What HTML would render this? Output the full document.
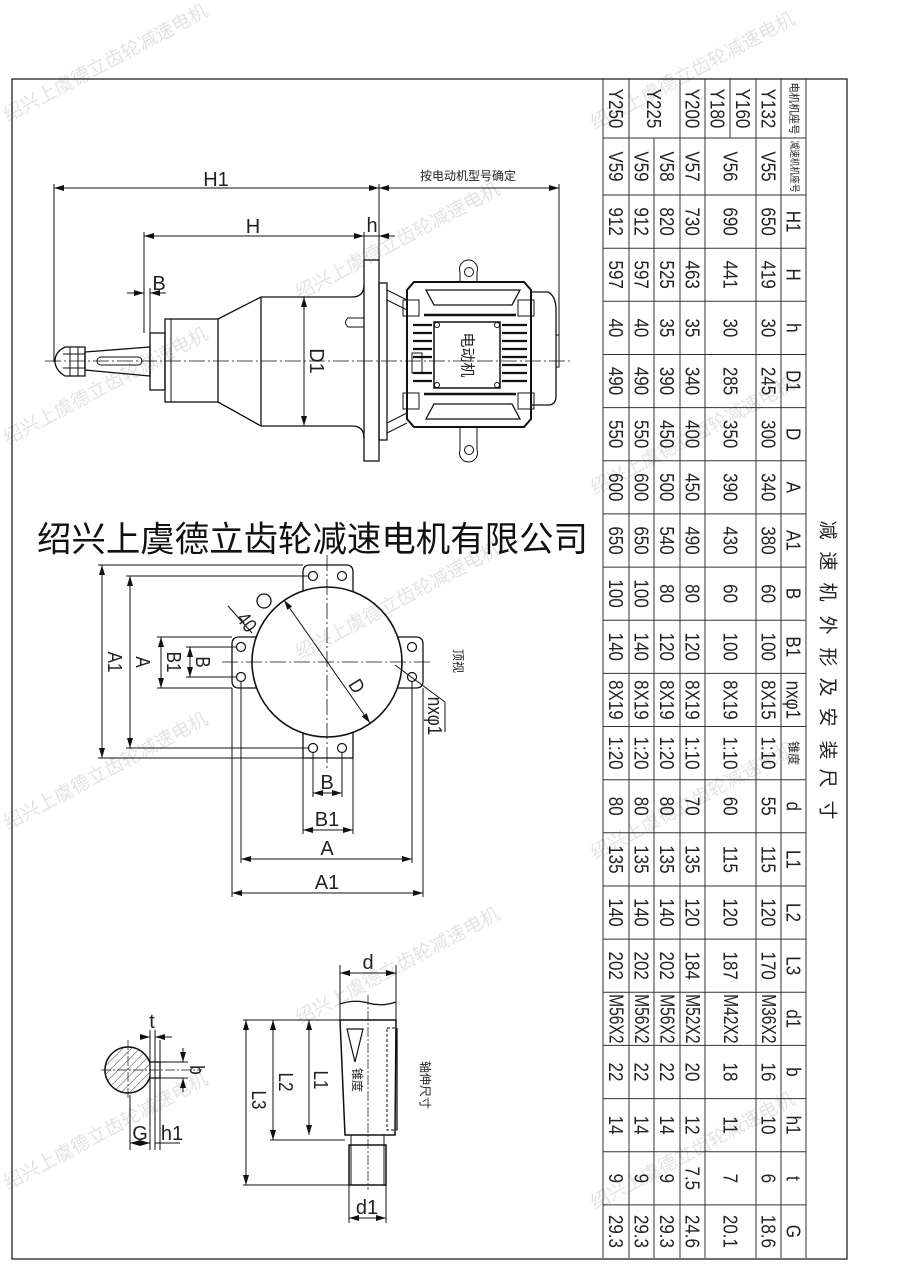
<!DOCTYPE html>
<html><head><meta charset="utf-8"><style>
html,body{margin:0;padding:0;background:#fff;}
svg{display:block;}
.t{font-family:"Liberation Sans Narrow","Liberation Sans",sans-serif;font-size:20px;text-anchor:middle;dominant-baseline:central;fill:#222;}
.c{font-family:"Liberation Sans","Noto Sans CJK SC",sans-serif;text-anchor:middle;dominant-baseline:central;fill:#222;}
.d{font-family:"Liberation Sans Narrow","Liberation Sans",sans-serif;font-size:20px;text-anchor:middle;fill:#222;}
.w{font-family:"Liberation Sans","Noto Sans CJK SC",sans-serif;font-size:19px;fill:#000;opacity:0.11;}
</style></head><body>
<svg width="900" height="1273" viewBox="0 0 900 1273" xmlns="http://www.w3.org/2000/svg">
<defs>
<marker id="a" viewBox="0 0 10 6" refX="10" refY="3" markerWidth="10" markerHeight="6" orient="auto-start-reverse" markerUnits="userSpaceOnUse"><path d="M0,0 L10,3 L0,6 z" fill="#111"/></marker>
<pattern id="hat" width="6" height="6" patternUnits="userSpaceOnUse" patternTransform="rotate(45)"><line x1="0" y1="0" x2="0" y2="6" stroke="#333" stroke-width="1"/></pattern>
</defs>
<rect width="900" height="1273" fill="#fff"/>
<rect x="12" y="79" width="835" height="1180" fill="none" stroke="#222" stroke-width="1.3"/>

<!-- ===== TABLE ===== -->
<g stroke="#333" stroke-width="1" fill="none">
<line x1="603" y1="79" x2="603" y2="1258"/>
<line x1="629" y1="79" x2="629" y2="1258"/>
<line x1="654" y1="138" x2="654" y2="1258"/>
<line x1="680" y1="79" x2="680" y2="1258"/>
<line x1="705" y1="79" x2="705" y2="1258"/>
<line x1="730" y1="79" x2="730" y2="138"/>
<line x1="756" y1="79" x2="756" y2="1258"/>
<line x1="781" y1="79" x2="781" y2="1258"/>
<line x1="806" y1="79" x2="806" y2="1258"/>
<line x1="603" y1="138" x2="806" y2="138"/>
<line x1="603" y1="195" x2="806" y2="195"/>
<line x1="603" y1="248.2" x2="806" y2="248.2"/>
<line x1="603" y1="301.3" x2="806" y2="301.3"/>
<line x1="603" y1="354.5" x2="806" y2="354.5"/>
<line x1="603" y1="407.6" x2="806" y2="407.6"/>
<line x1="603" y1="460.8" x2="806" y2="460.8"/>
<line x1="603" y1="513.9" x2="806" y2="513.9"/>
<line x1="603" y1="567.1" x2="806" y2="567.1"/>
<line x1="603" y1="620.2" x2="806" y2="620.2"/>
<line x1="603" y1="673.4" x2="806" y2="673.4"/>
<line x1="603" y1="726.5" x2="806" y2="726.5"/>
<line x1="603" y1="779.7" x2="806" y2="779.7"/>
<line x1="603" y1="832.8" x2="806" y2="832.8"/>
<line x1="603" y1="886" x2="806" y2="886"/>
<line x1="603" y1="939.1" x2="806" y2="939.1"/>
<line x1="603" y1="992.3" x2="806" y2="992.3"/>
<line x1="603" y1="1045.4" x2="806" y2="1045.4"/>
<line x1="603" y1="1098.6" x2="806" y2="1098.6"/>
<line x1="603" y1="1151.7" x2="806" y2="1151.7"/>
<line x1="603" y1="1204.9" x2="806" y2="1204.9"/>
</g>

<text class="c" font-size="11" textLength="52" lengthAdjust="spacingAndGlyphs" transform="translate(793.5,108.5) rotate(90)">电机机座号</text>
<text class="c" font-size="10" textLength="52" lengthAdjust="spacingAndGlyphs" transform="translate(793.5,166.5) rotate(90)">减速机机座号</text>
<text class="t" transform="translate(793.5,221.6) rotate(90) scale(0.85,1)">H1</text>
<text class="t" transform="translate(793.5,274.7) rotate(90) scale(0.85,1)">H</text>
<text class="t" transform="translate(793.5,327.9) rotate(90) scale(0.85,1)">h</text>
<text class="t" transform="translate(793.5,381) rotate(90) scale(0.85,1)">D1</text>
<text class="t" transform="translate(793.5,434.2) rotate(90) scale(0.85,1)">D</text>
<text class="t" transform="translate(793.5,487.3) rotate(90) scale(0.85,1)">A</text>
<text class="t" transform="translate(793.5,540.5) rotate(90) scale(0.85,1)">A1</text>
<text class="t" transform="translate(793.5,593.6) rotate(90) scale(0.85,1)">B</text>
<text class="t" transform="translate(793.5,646.8) rotate(90) scale(0.85,1)">B1</text>
<text class="t" transform="translate(793.5,699.9) rotate(90) scale(0.85,1)">nxφ1</text>
<text class="c" font-size="12" transform="translate(793.5,753.1) rotate(90)">锥度</text>
<text class="t" transform="translate(793.5,806.2) rotate(90) scale(0.85,1)">d</text>
<text class="t" transform="translate(793.5,859.4) rotate(90) scale(0.85,1)">L1</text>
<text class="t" transform="translate(793.5,912.5) rotate(90) scale(0.85,1)">L2</text>
<text class="t" transform="translate(793.5,965.7) rotate(90) scale(0.85,1)">L3</text>
<text class="t" transform="translate(793.5,1018.8) rotate(90) scale(0.85,1)">d1</text>
<text class="t" transform="translate(793.5,1072) rotate(90) scale(0.85,1)">b</text>
<text class="t" transform="translate(793.5,1125.1) rotate(90) scale(0.85,1)">h1</text>
<text class="t" transform="translate(793.5,1178.3) rotate(90) scale(0.85,1)">t</text>
<text class="t" transform="translate(793.5,1231.4) rotate(90) scale(0.85,1)">G</text>

<text class="t" transform="translate(768.5,108.5) rotate(90) scale(0.85,1)">Y132</text>
<text class="t" transform="translate(743,108.5) rotate(90) scale(0.85,1)">Y160</text>
<text class="t" transform="translate(717.5,108.5) rotate(90) scale(0.85,1)">Y180</text>
<text class="t" transform="translate(692.5,108.5) rotate(90) scale(0.85,1)">Y200</text>
<text class="t" transform="translate(654,108.5) rotate(90) scale(0.85,1)">Y225</text>
<text class="t" transform="translate(616,108.5) rotate(90) scale(0.85,1)">Y250</text>
<text class="t" transform="translate(768.5,166.5) rotate(90) scale(0.85,1)">V55</text>
<text class="t" transform="translate(730.5,166.5) rotate(90) scale(0.85,1)">V56</text>
<text class="t" transform="translate(692.5,166.5) rotate(90) scale(0.85,1)">V57</text>
<text class="t" transform="translate(667,166.5) rotate(90) scale(0.85,1)">V58</text>
<text class="t" transform="translate(641.5,166.5) rotate(90) scale(0.85,1)">V59</text>
<text class="t" transform="translate(616,166.5) rotate(90) scale(0.85,1)">V59</text>

<g>
<text class="t" transform="translate(768.5,221.6) rotate(90) scale(0.85,1)">650</text>
<text class="t" transform="translate(730.5,221.6) rotate(90) scale(0.85,1)">690</text>
<text class="t" transform="translate(692.5,221.6) rotate(90) scale(0.85,1)">730</text>
<text class="t" transform="translate(667,221.6) rotate(90) scale(0.85,1)">820</text>
<text class="t" transform="translate(641.5,221.6) rotate(90) scale(0.85,1)">912</text>
<text class="t" transform="translate(616,221.6) rotate(90) scale(0.85,1)">912</text>
</g>
<g>
<text class="t" transform="translate(768.5,274.7) rotate(90) scale(0.85,1)">419</text>
<text class="t" transform="translate(730.5,274.7) rotate(90) scale(0.85,1)">441</text>
<text class="t" transform="translate(692.5,274.7) rotate(90) scale(0.85,1)">463</text>
<text class="t" transform="translate(667,274.7) rotate(90) scale(0.85,1)">525</text>
<text class="t" transform="translate(641.5,274.7) rotate(90) scale(0.85,1)">597</text>
<text class="t" transform="translate(616,274.7) rotate(90) scale(0.85,1)">597</text>
</g>
<g>
<text class="t" transform="translate(768.5,327.9) rotate(90) scale(0.85,1)">30</text>
<text class="t" transform="translate(730.5,327.9) rotate(90) scale(0.85,1)">30</text>
<text class="t" transform="translate(692.5,327.9) rotate(90) scale(0.85,1)">35</text>
<text class="t" transform="translate(667,327.9) rotate(90) scale(0.85,1)">35</text>
<text class="t" transform="translate(641.5,327.9) rotate(90) scale(0.85,1)">40</text>
<text class="t" transform="translate(616,327.9) rotate(90) scale(0.85,1)">40</text>
</g>
<g>
<text class="t" transform="translate(768.5,381) rotate(90) scale(0.85,1)">245</text>
<text class="t" transform="translate(730.5,381) rotate(90) scale(0.85,1)">285</text>
<text class="t" transform="translate(692.5,381) rotate(90) scale(0.85,1)">340</text>
<text class="t" transform="translate(667,381) rotate(90) scale(0.85,1)">390</text>
<text class="t" transform="translate(641.5,381) rotate(90) scale(0.85,1)">490</text>
<text class="t" transform="translate(616,381) rotate(90) scale(0.85,1)">490</text>
</g>
<g>
<text class="t" transform="translate(768.5,434.2) rotate(90) scale(0.85,1)">300</text>
<text class="t" transform="translate(730.5,434.2) rotate(90) scale(0.85,1)">350</text>
<text class="t" transform="translate(692.5,434.2) rotate(90) scale(0.85,1)">400</text>
<text class="t" transform="translate(667,434.2) rotate(90) scale(0.85,1)">450</text>
<text class="t" transform="translate(641.5,434.2) rotate(90) scale(0.85,1)">550</text>
<text class="t" transform="translate(616,434.2) rotate(90) scale(0.85,1)">550</text>
</g>
<g>
<text class="t" transform="translate(768.5,487.3) rotate(90) scale(0.85,1)">340</text>
<text class="t" transform="translate(730.5,487.3) rotate(90) scale(0.85,1)">390</text>
<text class="t" transform="translate(692.5,487.3) rotate(90) scale(0.85,1)">450</text>
<text class="t" transform="translate(667,487.3) rotate(90) scale(0.85,1)">500</text>
<text class="t" transform="translate(641.5,487.3) rotate(90) scale(0.85,1)">600</text>
<text class="t" transform="translate(616,487.3) rotate(90) scale(0.85,1)">600</text>
</g>
<g>
<text class="t" transform="translate(768.5,540.5) rotate(90) scale(0.85,1)">380</text>
<text class="t" transform="translate(730.5,540.5) rotate(90) scale(0.85,1)">430</text>
<text class="t" transform="translate(692.5,540.5) rotate(90) scale(0.85,1)">490</text>
<text class="t" transform="translate(667,540.5) rotate(90) scale(0.85,1)">540</text>
<text class="t" transform="translate(641.5,540.5) rotate(90) scale(0.85,1)">650</text>
<text class="t" transform="translate(616,540.5) rotate(90) scale(0.85,1)">650</text>
</g>
<g>
<text class="t" transform="translate(768.5,593.6) rotate(90) scale(0.85,1)">60</text>
<text class="t" transform="translate(730.5,593.6) rotate(90) scale(0.85,1)">60</text>
<text class="t" transform="translate(692.5,593.6) rotate(90) scale(0.85,1)">80</text>
<text class="t" transform="translate(667,593.6) rotate(90) scale(0.85,1)">80</text>
<text class="t" transform="translate(641.5,593.6) rotate(90) scale(0.85,1)">100</text>
<text class="t" transform="translate(616,593.6) rotate(90) scale(0.85,1)">100</text>
</g>
<g>
<text class="t" transform="translate(768.5,646.8) rotate(90) scale(0.85,1)">100</text>
<text class="t" transform="translate(730.5,646.8) rotate(90) scale(0.85,1)">100</text>
<text class="t" transform="translate(692.5,646.8) rotate(90) scale(0.85,1)">120</text>
<text class="t" transform="translate(667,646.8) rotate(90) scale(0.85,1)">120</text>
<text class="t" transform="translate(641.5,646.8) rotate(90) scale(0.85,1)">140</text>
<text class="t" transform="translate(616,646.8) rotate(90) scale(0.85,1)">140</text>
</g>
<g>
<text class="t" transform="translate(768.5,699.9) rotate(90) scale(0.85,1)">8X15</text>
<text class="t" transform="translate(730.5,699.9) rotate(90) scale(0.85,1)">8X19</text>
<text class="t" transform="translate(692.5,699.9) rotate(90) scale(0.85,1)">8X19</text>
<text class="t" transform="translate(667,699.9) rotate(90) scale(0.85,1)">8X19</text>
<text class="t" transform="translate(641.5,699.9) rotate(90) scale(0.85,1)">8X19</text>
<text class="t" transform="translate(616,699.9) rotate(90) scale(0.85,1)">8X19</text>
</g>
<g>
<text class="t" transform="translate(768.5,753.1) rotate(90) scale(0.85,1)">1:10</text>
<text class="t" transform="translate(730.5,753.1) rotate(90) scale(0.85,1)">1:10</text>
<text class="t" transform="translate(692.5,753.1) rotate(90) scale(0.85,1)">1:10</text>
<text class="t" transform="translate(667,753.1) rotate(90) scale(0.85,1)">1:20</text>
<text class="t" transform="translate(641.5,753.1) rotate(90) scale(0.85,1)">1:20</text>
<text class="t" transform="translate(616,753.1) rotate(90) scale(0.85,1)">1:20</text>
</g>
<g>
<text class="t" transform="translate(768.5,806.2) rotate(90) scale(0.85,1)">55</text>
<text class="t" transform="translate(730.5,806.2) rotate(90) scale(0.85,1)">60</text>
<text class="t" transform="translate(692.5,806.2) rotate(90) scale(0.85,1)">70</text>
<text class="t" transform="translate(667,806.2) rotate(90) scale(0.85,1)">80</text>
<text class="t" transform="translate(641.5,806.2) rotate(90) scale(0.85,1)">80</text>
<text class="t" transform="translate(616,806.2) rotate(90) scale(0.85,1)">80</text>
</g>
<g>
<text class="t" transform="translate(768.5,859.4) rotate(90) scale(0.85,1)">115</text>
<text class="t" transform="translate(730.5,859.4) rotate(90) scale(0.85,1)">115</text>
<text class="t" transform="translate(692.5,859.4) rotate(90) scale(0.85,1)">135</text>
<text class="t" transform="translate(667,859.4) rotate(90) scale(0.85,1)">135</text>
<text class="t" transform="translate(641.5,859.4) rotate(90) scale(0.85,1)">135</text>
<text class="t" transform="translate(616,859.4) rotate(90) scale(0.85,1)">135</text>
</g>
<g>
<text class="t" transform="translate(768.5,912.5) rotate(90) scale(0.85,1)">120</text>
<text class="t" transform="translate(730.5,912.5) rotate(90) scale(0.85,1)">120</text>
<text class="t" transform="translate(692.5,912.5) rotate(90) scale(0.85,1)">120</text>
<text class="t" transform="translate(667,912.5) rotate(90) scale(0.85,1)">140</text>
<text class="t" transform="translate(641.5,912.5) rotate(90) scale(0.85,1)">140</text>
<text class="t" transform="translate(616,912.5) rotate(90) scale(0.85,1)">140</text>
</g>
<g>
<text class="t" transform="translate(768.5,965.7) rotate(90) scale(0.85,1)">170</text>
<text class="t" transform="translate(730.5,965.7) rotate(90) scale(0.85,1)">187</text>
<text class="t" transform="translate(692.5,965.7) rotate(90) scale(0.85,1)">184</text>
<text class="t" transform="translate(667,965.7) rotate(90) scale(0.85,1)">202</text>
<text class="t" transform="translate(641.5,965.7) rotate(90) scale(0.85,1)">202</text>
<text class="t" transform="translate(616,965.7) rotate(90) scale(0.85,1)">202</text>
</g>
<g>
<text class="t" transform="translate(768.5,1018.8) rotate(90) scale(0.78,1)">M36X2</text>
<text class="t" transform="translate(730.5,1018.8) rotate(90) scale(0.78,1)">M42X2</text>
<text class="t" transform="translate(692.5,1018.8) rotate(90) scale(0.78,1)">M52X2</text>
<text class="t" transform="translate(667,1018.8) rotate(90) scale(0.78,1)">M56X2</text>
<text class="t" transform="translate(641.5,1018.8) rotate(90) scale(0.78,1)">M56X2</text>
<text class="t" transform="translate(616,1018.8) rotate(90) scale(0.78,1)">M56X2</text>
</g>
<g>
<text class="t" transform="translate(768.5,1072) rotate(90) scale(0.85,1)">16</text>
<text class="t" transform="translate(730.5,1072) rotate(90) scale(0.85,1)">18</text>
<text class="t" transform="translate(692.5,1072) rotate(90) scale(0.85,1)">20</text>
<text class="t" transform="translate(667,1072) rotate(90) scale(0.85,1)">22</text>
<text class="t" transform="translate(641.5,1072) rotate(90) scale(0.85,1)">22</text>
<text class="t" transform="translate(616,1072) rotate(90) scale(0.85,1)">22</text>
</g>
<g>
<text class="t" transform="translate(768.5,1125.1) rotate(90) scale(0.85,1)">10</text>
<text class="t" transform="translate(730.5,1125.1) rotate(90) scale(0.85,1)">11</text>
<text class="t" transform="translate(692.5,1125.1) rotate(90) scale(0.85,1)">12</text>
<text class="t" transform="translate(667,1125.1) rotate(90) scale(0.85,1)">14</text>
<text class="t" transform="translate(641.5,1125.1) rotate(90) scale(0.85,1)">14</text>
<text class="t" transform="translate(616,1125.1) rotate(90) scale(0.85,1)">14</text>
</g>
<g>
<text class="t" transform="translate(768.5,1178.3) rotate(90) scale(0.85,1)">6</text>
<text class="t" transform="translate(730.5,1178.3) rotate(90) scale(0.85,1)">7</text>
<text class="t" transform="translate(692.5,1178.3) rotate(90) scale(0.85,1)">7.5</text>
<text class="t" transform="translate(667,1178.3) rotate(90) scale(0.85,1)">9</text>
<text class="t" transform="translate(641.5,1178.3) rotate(90) scale(0.85,1)">9</text>
<text class="t" transform="translate(616,1178.3) rotate(90) scale(0.85,1)">9</text>
</g>
<g>
<text class="t" transform="translate(768.5,1231.4) rotate(90) scale(0.85,1)">18.6</text>
<text class="t" transform="translate(730.5,1231.4) rotate(90) scale(0.85,1)">20.1</text>
<text class="t" transform="translate(692.5,1231.4) rotate(90) scale(0.85,1)">24.6</text>
<text class="t" transform="translate(667,1231.4) rotate(90) scale(0.85,1)">29.3</text>
<text class="t" transform="translate(641.5,1231.4) rotate(90) scale(0.85,1)">29.3</text>
<text class="t" transform="translate(616,1231.4) rotate(90) scale(0.85,1)">29.3</text>
</g>

<g>
<text class="c" font-size="19" transform="translate(827,530) rotate(90)">减</text>
<text class="c" font-size="19" transform="translate(827,561) rotate(90)">速</text>
<text class="c" font-size="19" transform="translate(827,592) rotate(90)">机</text>
<text class="c" font-size="19" transform="translate(827,625) rotate(90)">外</text>
<text class="c" font-size="19" transform="translate(827,657) rotate(90)">形</text>
<text class="c" font-size="19" transform="translate(827,687) rotate(90)">及</text>
<text class="c" font-size="19" transform="translate(827,717) rotate(90)">安</text>
<text class="c" font-size="19" transform="translate(827,750) rotate(90)">装</text>
<text class="c" font-size="19" transform="translate(827,778) rotate(90)">尺</text>
<text class="c" font-size="19" transform="translate(827,810) rotate(90)">寸</text>
</g>

<!-- ===== SIDE VIEW ===== -->
<g stroke="#111" stroke-width="1" fill="none">
<line x1="54" y1="188" x2="379" y2="188" marker-start="url(#a)" marker-end="url(#a)"/>
<line x1="379" y1="188" x2="559" y2="188" marker-start="url(#a)" marker-end="url(#a)"/>
<line x1="54" y1="184" x2="54" y2="362"/>
<line x1="379" y1="184" x2="379" y2="262"/>
<line x1="559" y1="184" x2="559" y2="345"/>
<line x1="144" y1="236" x2="364" y2="236" marker-start="url(#a)" marker-end="url(#a)"/>
<line x1="364" y1="236" x2="379" y2="236"/>
<line x1="379" y1="236" x2="395" y2="236" marker-start="url(#a)"/>
<line x1="144" y1="232" x2="144" y2="333"/>
<line x1="364" y1="232" x2="364" y2="260"/>
<line x1="127" y1="293" x2="144" y2="293" marker-end="url(#a)"/>
<line x1="166" y1="293" x2="150" y2="293" marker-end="url(#a)"/>
<line x1="150" y1="288" x2="150" y2="333"/>
<line x1="304" y1="297" x2="304" y2="426" marker-start="url(#a)" marker-end="url(#a)"/>
<line x1="45" y1="361" x2="570" y2="361" stroke-dasharray="16,3,2,3" stroke-width="0.8"/>
<rect x="364" y="260" width="15" height="201" stroke-width="1.3"/>
<path d="M261,297 L352,297 Q364,297 364,285 M261,426 L352,426 Q364,426 364,438" stroke-width="1.3"/>
<line x1="261" y1="297" x2="261" y2="426" stroke-width="1.3"/>
<path d="M218,319 L261,297 M218,402 L261,426" stroke-width="1.3"/>
<rect x="165" y="319" width="53" height="83" stroke-width="1.3"/>
<line x1="171" y1="319" x2="171" y2="402"/>
<rect x="150" y="333" width="15" height="57" stroke-width="1.3"/>
<path d="M85,352 L150,347 L150,376 L85,370 Z" stroke-width="1.3"/>
<rect x="97" y="357" width="45" height="8" rx="4"/>
<path d="M85,347 L85,376 L65,376 Q55,370 55,361 Q55,352 65,347 Z" stroke-width="1.3"/>
<line x1="70" y1="347" x2="70" y2="376"/><line x1="78" y1="347" x2="78" y2="376"/>
<line x1="63" y1="354" x2="85" y2="354"/><line x1="63" y1="368" x2="85" y2="368"/>
<path d="M364,318 L348,318 Q343,322 348,327 L364,327" />
<rect x="379" y="283" width="8" height="157" stroke-width="1.3"/>
<path d="M387,290 L407,300 M387,433 L407,423 M387,300 L407,310 M387,423 L407,413"/>
<path d="M414,282 L524,282 L531,290 L531,419 L524,427 L414,427 L407,419 L407,290 Z" stroke-width="2"/>
<path d="M426,290 L520,290 L512,305 L434,305 Z M426,419 L520,419 L512,404 L434,404 Z" stroke-width="1.3"/>
<line x1="424" y1="315" x2="516" y2="315" stroke-width="2.5"/>
<line x1="424" y1="394" x2="516" y2="394" stroke-width="2.5"/>
<rect x="434" y="322" width="66" height="66" stroke-width="1.5"/>
<circle cx="437" cy="325" r="2.5"/><circle cx="497" cy="325" r="2.5"/>
<circle cx="437" cy="385" r="2.5"/><circle cx="497" cy="385" r="2.5"/>
<g stroke-width="2.2">
<line x1="413" y1="325" x2="432" y2="325"/><line x1="413" y1="333" x2="432" y2="333"/><line x1="413" y1="341" x2="432" y2="341"/><line x1="413" y1="349" x2="432" y2="349"/><line x1="413" y1="357" x2="432" y2="357"/><line x1="413" y1="373" x2="432" y2="373"/><line x1="413" y1="381" x2="432" y2="381"/>
<line x1="502" y1="325" x2="527" y2="325"/><line x1="502" y1="333" x2="527" y2="333"/><line x1="502" y1="341" x2="527" y2="341"/><line x1="502" y1="349" x2="527" y2="349"/><line x1="502" y1="357" x2="527" y2="357"/><line x1="502" y1="365" x2="527" y2="365"/><line x1="502" y1="373" x2="527" y2="373"/><line x1="502" y1="381" x2="527" y2="381"/>
</g>
<rect x="412" y="353" width="10" height="20"/>
<rect x="403" y="300" width="16" height="16"/><rect x="518" y="300" width="16" height="16"/>
<rect x="403" y="393" width="16" height="16"/><rect x="518" y="393" width="16" height="16"/>
<path d="M531,292 L548,292 Q556,296 556,310 L556,396 Q556,405 548,405 L531,405" stroke-width="1.3"/>
<rect x="556" y="335" width="3" height="32"/>
<path d="M460,282 L460,272 A9,9 0 1 1 477,272 L477,282"/><circle cx="469" cy="272" r="4.5"/>
<path d="M460,427 L460,450 A9,9 0 1 0 477,450 L477,427"/><circle cx="469" cy="450" r="4.5"/>
</g>
<text class="d" x="216" y="186">H1</text>
<text class="d" x="253" y="233">H</text>
<text class="d" x="372" y="232" font-size="19">h</text>
<text class="d" x="159" y="290" font-size="19">B</text>
<text class="c" font-size="12" x="468" y="176">按电动机型号确定</text>
<text class="t" transform="translate(316,361) rotate(90)">D1</text>
<text class="c" font-size="15" transform="translate(467,355) rotate(90)">电动机</text>

<text x="37" y="540" textLength="551" lengthAdjust="spacingAndGlyphs" style="font-family:'Liberation Sans','Noto Sans CJK SC',sans-serif;font-size:35px;fill:#111;dominant-baseline:central;">绍兴上虞德立齿轮减速电机有限公司</text>

<!-- ===== FLANGE VIEW ===== -->
<g stroke="#111" stroke-width="1" fill="none">
<path d="M303,595 L303,572 Q303,565 310,565 L346,565 Q353,565 353,572 L353,595" stroke-width="1.3"/>
<path d="M303,730 L303,758 L353,758 L353,730" stroke-width="1.3"/>
<path d="M260,637 L239,637 Q232,637 232,644 L232,681 Q232,688 239,688 L260,688" stroke-width="1.3"/>
<path d="M395,637 L416,637 Q423,637 423,644 L423,681 Q423,688 416,688 L395,688" stroke-width="1.3"/>
<circle cx="327" cy="662" r="75" fill="#fff" stroke-width="1.6"/>
<circle cx="264" cy="601" r="7" fill="#fff" stroke-width="1.3"/>
<g stroke-width="1.2">
<circle cx="313" cy="576" r="4.5"/><circle cx="342" cy="576" r="4.5"/>
<circle cx="313" cy="748" r="4.5"/><circle cx="342" cy="748" r="4.5"/>
<circle cx="241" cy="647" r="4.5"/><circle cx="241" cy="677" r="4.5"/>
<circle cx="412" cy="647" r="4.5"/><circle cx="412" cy="677" r="4.5"/>
</g>
<line x1="327" y1="555" x2="327" y2="768" stroke-dasharray="16,3,2,3" stroke-width="0.8"/>
<line x1="222" y1="662" x2="432" y2="662" stroke-dasharray="16,3,2,3" stroke-width="0.8"/>
<line x1="284" y1="600" x2="370" y2="723" marker-start="url(#a)" marker-end="url(#a)"/>
<line x1="228" y1="606" x2="252" y2="633" />
<line x1="102" y1="565" x2="102" y2="758" marker-start="url(#a)" marker-end="url(#a)"/>
<line x1="98" y1="565" x2="303" y2="565"/><line x1="98" y1="758" x2="303" y2="758"/>
<line x1="130" y1="576" x2="130" y2="748" marker-start="url(#a)" marker-end="url(#a)"/>
<line x1="126" y1="576" x2="308" y2="576"/><line x1="126" y1="748" x2="308" y2="748"/>
<line x1="161" y1="637" x2="161" y2="688" marker-start="url(#a)" marker-end="url(#a)"/>
<line x1="157" y1="637" x2="232" y2="637"/><line x1="157" y1="688" x2="232" y2="688"/>
<line x1="190" y1="647" x2="190" y2="677" marker-start="url(#a)" marker-end="url(#a)"/>
<line x1="186" y1="647" x2="236" y2="647"/><line x1="186" y1="677" x2="236" y2="677"/>
<line x1="313" y1="752" x2="313" y2="797"/><line x1="342" y1="752" x2="342" y2="797"/>
<line x1="313" y1="793" x2="342" y2="793" marker-start="url(#a)" marker-end="url(#a)"/>
<line x1="303" y1="758" x2="303" y2="834"/><line x1="353" y1="758" x2="353" y2="834"/>
<line x1="303" y1="830" x2="353" y2="830" marker-start="url(#a)" marker-end="url(#a)"/>
<line x1="241" y1="681" x2="241" y2="863"/><line x1="412" y1="681" x2="412" y2="863"/>
<line x1="241" y1="859" x2="412" y2="859" marker-start="url(#a)" marker-end="url(#a)"/>
<line x1="232" y1="688" x2="232" y2="897"/><line x1="423" y1="688" x2="423" y2="897"/>
<line x1="232" y1="893" x2="423" y2="893" marker-start="url(#a)" marker-end="url(#a)"/>
<line x1="395" y1="665" x2="445" y2="702"/>
<line x1="445" y1="702" x2="445" y2="732"/>
</g>
<text class="t" transform="translate(115,662) rotate(90) scale(0.85,1)">A1</text>
<text class="t" transform="translate(143,662) rotate(90) scale(0.85,1)">A</text>
<text class="t" transform="translate(174,662) rotate(90) scale(0.85,1)">B1</text>
<text class="t" transform="translate(203,662) rotate(90) scale(0.85,1)">B</text>
<text class="t" transform="translate(247,622) rotate(53) scale(0.85,1)">40</text>
<text class="t" transform="translate(357,686) rotate(58) scale(0.85,1)">D</text>
<text class="t" transform="translate(435,716) rotate(90) scale(0.85,1)">nxφ1</text>
<text class="c" font-size="12" transform="translate(458,661) rotate(90)">顶视</text>
<text class="d" x="327" y="789">B</text>
<text class="d" x="327" y="826">B1</text>
<text class="d" x="327" y="855">A</text>
<text class="d" x="327" y="889">A1</text>

<!-- ===== SHAFT DETAIL ===== -->
<g stroke="#111" stroke-width="1" fill="none">
<circle cx="128" cy="1070" r="23" fill="url(#hat)" stroke-width="1.5"/>
<rect x="150" y="1062" width="10" height="16" fill="#fff" stroke-width="1.3"/>
<line x1="101" y1="1070" x2="202" y2="1070" stroke-dasharray="10,2,2,2" stroke-width="0.7"/>
<line x1="128" y1="1040" x2="128" y2="1100" stroke-dasharray="10,2,2,2" stroke-width="0.7"/>
<line x1="150" y1="1030" x2="150" y2="1150"/>
<line x1="155" y1="1030" x2="155" y2="1150"/>
<line x1="160" y1="1040" x2="160" y2="1150"/>
<line x1="130" y1="1095" x2="130" y2="1150"/>
<line x1="140" y1="1037" x2="150" y2="1037" marker-end="url(#a)"/>
<line x1="172" y1="1037" x2="155" y2="1037" marker-end="url(#a)"/>
<line x1="130" y1="1143" x2="150" y2="1143" marker-start="url(#a)" marker-end="url(#a)"/>
<line x1="155" y1="1143" x2="180" y2="1143"/>
<line x1="160" y1="1062" x2="188" y2="1062"/><line x1="160" y1="1078" x2="188" y2="1078"/>
<line x1="183" y1="1048" x2="183" y2="1062" marker-end="url(#a)"/>
<line x1="183" y1="1092" x2="183" y2="1078" marker-end="url(#a)"/>
<line x1="340" y1="965" x2="340" y2="1020"/><line x1="396" y1="965" x2="396" y2="1020"/>
<line x1="340" y1="973" x2="396" y2="973" marker-start="url(#a)" marker-end="url(#a)"/>
<path d="M340,1004 Q355,999 368,1003 Q382,1007 396,1002" stroke-width="1.3"/>
<path d="M340,1020 L396,1020 L395,1135 L345,1135 Z" stroke-width="1.5"/>
<path d="M347,1029 L363,1029 L355,1062 Z" stroke-width="1.2"/>
<rect x="387" y="1028" width="10" height="102" stroke-dasharray="3,2"/>
<line x1="397" y1="1028" x2="397" y2="1130" stroke-width="1.3"/>
<path d="M351,1135 L351,1145 M384,1135 L384,1145" />
<rect x="349" y="1145" width="37" height="40" stroke-width="1.5"/>
<line x1="351" y1="1145" x2="351" y2="1185"/><line x1="384" y1="1145" x2="384" y2="1185"/>
<line x1="368" y1="995" x2="368" y2="1190" stroke-dasharray="10,2,2,2" stroke-width="0.7"/>
<line x1="349" y1="1185" x2="349" y2="1223"/><line x1="386" y1="1185" x2="386" y2="1223"/>
<line x1="349" y1="1218" x2="386" y2="1218" marker-start="url(#a)" marker-end="url(#a)"/>
<line x1="243" y1="1020" x2="340" y2="1020"/>
<line x1="270" y1="1140" x2="345" y2="1140"/>
<line x1="243" y1="1185" x2="349" y2="1185"/>
<line x1="246" y1="1020" x2="246" y2="1185" marker-start="url(#a)" marker-end="url(#a)"/>
<line x1="273" y1="1020" x2="273" y2="1140" marker-start="url(#a)" marker-end="url(#a)"/>
<line x1="309" y1="1020" x2="309" y2="1135" marker-start="url(#a)" marker-end="url(#a)"/>
</g>
<text class="d" x="152" y="1028" font-size="17">t</text>
<text class="t" transform="translate(197,1070) rotate(90) scale(0.85,1)">b</text>
<text class="d" x="140" y="1140">G</text>
<text class="d" x="172" y="1140">h1</text>
<text class="d" x="368" y="969">d</text>
<text class="d" x="367" y="1214">d1</text>
<text class="t" transform="translate(259,1100) rotate(90) scale(0.85,1)">L3</text>
<text class="t" transform="translate(286,1082) rotate(90) scale(0.85,1)">L2</text>
<text class="t" transform="translate(321,1080) rotate(90) scale(0.85,1)">L1</text>
<text class="c" font-size="12" transform="translate(357,1080) rotate(90)">锥度</text>
<text class="c" font-size="12" transform="translate(425,1085) rotate(90)">轴伸尺寸</text>

<g>
<text class="w" transform="translate(8,122) rotate(-28)">绍兴上虞德立齿轮减速电机</text>
<text class="w" transform="translate(595,130) rotate(-28)">绍兴上虞德立齿轮减速电机</text>
<text class="w" transform="translate(300,300) rotate(-28)">绍兴上虞德立齿轮减速电机</text>
<text class="w" transform="translate(8,445) rotate(-28)">绍兴上虞德立齿轮减速电机</text>
<text class="w" transform="translate(595,495) rotate(-28)">绍兴上虞德立齿轮减速电机</text>
<text class="w" transform="translate(300,660) rotate(-28)">绍兴上虞德立齿轮减速电机</text>
<text class="w" transform="translate(8,830) rotate(-28)">绍兴上虞德立齿轮减速电机</text>
<text class="w" transform="translate(595,860) rotate(-28)">绍兴上虞德立齿轮减速电机</text>
<text class="w" transform="translate(300,1025) rotate(-28)">绍兴上虞德立齿轮减速电机</text>
<text class="w" transform="translate(8,1190) rotate(-28)">绍兴上虞德立齿轮减速电机</text>
<text class="w" transform="translate(595,1210) rotate(-28)">绍兴上虞德立齿轮减速电机</text>
</g>
</svg>
</body></html>
